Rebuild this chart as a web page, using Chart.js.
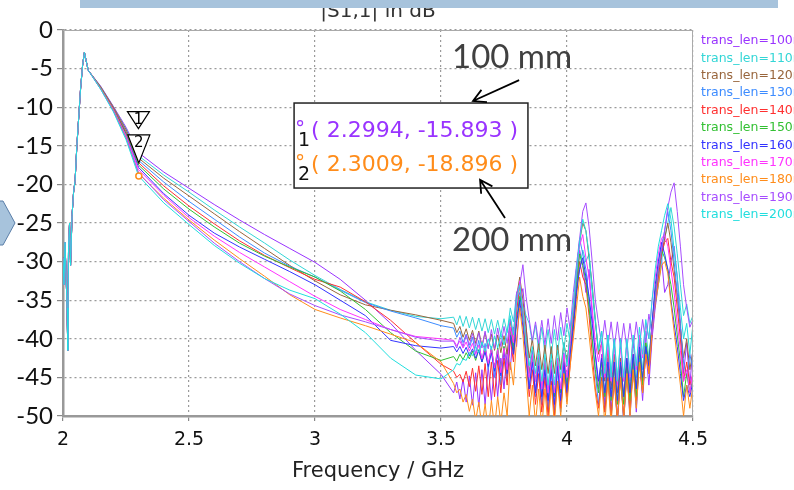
<!DOCTYPE html>
<html>
<head>
<meta charset="utf-8">
<script src="https://cdn.jsdelivr.net/npm/chart.js@4.4.1/dist/chart.umd.min.js"></script>
<style>
  html, body { margin: 0; padding: 0; background: #fff; }
</style>
</head>
<body>
<canvas id="s11-chart" width="794" height="490"></canvas>
<script>
// trace names and colours
const lengths = ['100', '110', '120', '130', '140', '150', '160', '170', '180', '190', '200'];
const colors = ['#9933ff', '#33d6d6', '#99663d', '#3d8cff', '#ff3030', '#33c033', '#3333ff', '#ff33ff', '#ff8c1a', '#a64dff', '#22dede'];

// frequency points (GHz)
const riseFreq = [2.000, 2.004, 2.008, 2.012, 2.016, 2.019, 2.022, 2.026, 2.030, 2.036, 2.042, 2.048, 2.055, 2.062, 2.070, 2.078, 2.085, 2.092, 2.100];
const midFreq = [2.15, 2.20, 2.25, 2.30, 2.40, 2.50, 2.60, 2.70, 2.80, 2.90, 3.00, 3.10, 3.20, 3.30, 3.40, 3.50];
const resFreq = [
  3.55, 3.5625, 3.575, 3.5875, 3.6, 3.6125, 3.625, 3.6375, 3.65, 3.6625,
  3.675, 3.6875, 3.7, 3.7125, 3.725, 3.7375, 3.75, 3.7625, 3.775, 3.7875,
  3.8, 3.8125, 3.825, 3.8375, 3.85, 3.8625, 3.875, 3.8875, 3.9, 3.9125,
  3.925, 3.9375, 3.95, 3.9625, 3.975, 3.9875, 4.0, 4.0125, 4.025, 4.0375,
  4.05, 4.0625, 4.075, 4.0875, 4.1, 4.1125, 4.125, 4.1375, 4.15, 4.1625,
  4.175, 4.1875, 4.2, 4.2125, 4.225, 4.2375, 4.25, 4.2625, 4.275, 4.2875,
  4.3, 4.3125, 4.325, 4.3375, 4.35, 4.3625, 4.375, 4.3875, 4.4, 4.4125,
  4.425, 4.4375, 4.45, 4.4625, 4.475, 4.4875, 4.5];

// the rising edge is the same for every length
const riseDb = [-29.5, -33.0, -27.5, -31.5, -36.0, -41.5, -28.0, -25.0, -30.5, -24.0, -21.0, -19.5, -15.0, -11.5, -7.5, -4.5, -2.9, -4.0, -5.2];

// 2.15 .. 3.5 GHz
const mid100 = [-7.3, -9.9, -12.6, -15.9, -18.4, -20.5, -22.6, -24.6, -26.5, -28.3, -30.1, -32.3, -35.0, -38.0, -41.5, -44.6];
const mid110 = [-7.4, -10.0, -12.8, -16.3, -18.8, -21.0, -23.3, -25.5, -27.6, -29.8, -31.8, -33.6, -35.2, -36.3, -37.1, -37.4];
const mid120 = [-7.4, -10.0, -12.9, -16.6, -19.2, -21.5, -23.8, -26.1, -28.3, -30.5, -32.5, -34.3, -35.6, -36.3, -36.9, -37.6];
const mid130 = [-7.5, -10.1, -13.1, -16.9, -19.7, -22.2, -24.5, -26.8, -28.9, -30.6, -32.0, -33.7, -35.3, -36.4, -37.3, -38.3];
const mid140 = [-7.5, -10.1, -13.2, -17.2, -20.2, -22.8, -25.1, -27.3, -29.2, -30.8, -32.3, -33.3, -35.2, -37.6, -40.5, -43.3];
const mid150 = [-7.5, -10.2, -13.4, -17.5, -20.6, -23.2, -25.5, -27.6, -29.3, -30.7, -32.0, -33.8, -36.2, -39.2, -41.6, -42.8];
const mid160 = [-7.6, -10.3, -13.6, -17.8, -21.2, -24.0, -26.3, -28.1, -29.7, -31.3, -33.0, -35.0, -37.0, -40.2, -40.9, -41.2];
const mid170 = [-7.6, -10.3, -13.7, -18.1, -21.4, -24.3, -26.7, -28.8, -30.7, -32.6, -34.5, -36.2, -37.5, -38.8, -39.7, -40.0];
const mid180 = [-7.6, -10.4, -13.9, -18.6, -21.8, -24.6, -27.2, -29.6, -31.9, -34.3, -36.2, -37.3, -38.3, -39.4, -40.5, -43.0];
const mid190 = [-7.7, -10.5, -14.0, -18.5, -22.0, -24.8, -27.6, -30.0, -32.2, -34.2, -35.7, -36.9, -37.8, -38.8, -39.8, -40.3];
const mid200 = [-7.7, -10.6, -14.2, -18.9, -22.4, -25.2, -27.9, -30.2, -32.2, -33.7, -34.8, -36.8, -39.2, -42.5, -44.7, -45.2];

// 3.55 .. 4.5 GHz, ripple and the three resonances
const res100 = [
  -47.0, -45.6, -47.8, -45.2, -48.2, -44.8, -48.6, -44.4, -48.8, -44.0, -48.5, -43.6, -48.0, -43.2, -47.5, -42.5, -46.5, -41.5,
  -44.0, -38.5, -41.0, -35.0, -33.5, -38.0, -44.5, -41.5,
  -47.0, -42.0, -48.5, -42.5, -49.0, -42.8, -49.2, -42.5, -48.5, -41.8, -47.0, -40.5,
  -38.0, -33.0, -28.5, -30.5, -34.0, -31.0, -37.0, -42.0, -46.5,
  -42.0, -48.5, -42.5, -49.5, -43.0, -50.5, -43.5, -51.0, -43.5, -50.5, -43.0, -49.5, -42.5, -48.0, -41.5, -46.0, -40.0,
  -36.0, -33.0, -29.5, -34.0, -33.0, -30.0, -28.0, -32.0, -38.0,
  -44.5, -40.5, -46.0, -41.0];
const res110 = [
  -37.2, -38.2, -37.0, -38.4, -37.1, -38.6, -37.2, -38.8, -37.3, -39.0, -37.4, -39.2, -37.5, -39.4, -37.6, -39.5, -37.4, -39.2,
  -36.0, -37.8, -34.0, -36.5, -35.5, -37.0, -38.0, -40.5,
  -38.2, -41.5, -38.5, -42.0, -38.8, -42.2, -38.8, -42.0, -38.5, -41.5, -38.0, -40.5,
  -36.0, -33.5, -31.0, -28.5, -30.0, -29.0, -34.0, -38.0, -41.5,
  -39.0, -43.5, -39.5, -44.5, -40.0, -45.0, -40.5, -45.5, -40.5, -45.5, -40.5, -45.0, -40.0, -44.0, -39.0, -42.5, -38.0,
  -35.5, -33.0, -30.0, -27.0, -25.0, -23.0, -25.5, -29.0, -33.0,
  -37.0, -35.5, -38.0, -37.0];
const res120 = [
  -38.0, -39.2, -38.4, -39.8, -38.7, -40.2, -38.9, -40.6, -39.0, -40.9, -39.2, -41.2, -39.4, -41.5, -39.5, -41.8, -39.6, -42.0,
  -37.5, -41.0, -34.5, -32.0, -35.0, -38.5, -42.5, -40.0,
  -43.5, -40.5, -44.0, -40.8, -44.5, -41.0, -44.5, -40.8, -44.0, -40.5, -43.0, -39.5,
  -36.0, -31.0, -27.5, -25.0, -26.0, -29.5, -33.0, -37.5, -42.0,
  -40.5, -45.5, -41.5, -46.5, -42.0, -47.0, -42.5, -47.5, -42.5, -47.0, -42.0, -46.5, -41.5, -45.5, -40.5, -44.0, -38.5,
  -35.5, -32.0, -29.0, -27.0, -25.0, -27.5, -31.0, -34.5, -38.5,
  -42.5, -40.0, -44.0, -41.5];
const res130 = [
  -38.6, -39.8, -39.0, -40.5, -39.4, -41.2, -39.8, -42.0, -40.2, -43.0, -40.6, -44.0, -41.0, -45.0, -41.2, -46.0, -41.0, -45.5,
  -38.5, -42.0, -36.0, -34.0, -37.5, -41.5, -46.0, -42.5,
  -47.5, -43.0, -48.5, -43.5, -49.5, -44.0, -50.0, -44.0, -49.5, -43.5, -48.0, -42.0,
  -37.0, -32.0, -27.0, -29.0, -31.0, -35.0, -40.0, -44.5, -48.5,
  -44.0, -49.5, -44.5, -50.5, -45.0, -51.0, -45.0, -50.5, -44.5, -49.5, -43.5, -48.5, -42.5, -47.0, -41.0, -44.5, -38.5,
  -34.0, -30.0, -28.0, -26.0, -23.5, -26.0, -30.0, -34.0, -38.5,
  -43.0, -45.0, -42.0, -44.0];
const res140 = [
  -44.2, -45.0, -44.6, -45.6, -44.2, -46.2, -43.8, -46.8, -43.5, -47.2, -43.2, -47.5, -43.0, -47.5, -42.8, -47.0, -42.5, -46.0,
  -40.0, -43.0, -36.5, -33.0, -37.0, -42.0, -47.5, -44.0,
  -48.5, -44.5, -49.5, -45.0, -50.0, -45.5, -50.0, -45.5, -49.0, -44.5, -47.5, -43.5,
  -39.0, -34.5, -30.0, -32.0, -33.0, -37.0, -42.0, -46.5, -49.0,
  -45.0, -49.5, -45.0, -50.0, -45.5, -50.5, -45.0, -50.0, -44.5, -49.0, -44.0, -48.0, -43.0, -47.0, -42.0, -44.5, -39.5,
  -35.0, -31.5, -29.0, -27.5, -27.0, -30.0, -32.0, -36.0, -40.0,
  -45.5, -43.0, -46.0, -44.5];
const res150 = [
  -42.3, -42.9, -42.0, -42.7, -41.8, -42.6, -41.6, -42.8, -41.4, -43.0, -41.3, -43.4, -41.2, -43.8, -41.2, -44.2, -41.0, -44.0,
  -39.0, -41.5, -37.5, -34.5, -36.0, -40.0, -44.5, -42.0,
  -45.5, -42.5, -46.5, -42.5, -47.0, -43.0, -47.5, -43.0, -47.0, -42.5, -46.0, -41.5,
  -37.5, -33.5, -29.0, -30.5, -32.5, -36.0, -40.0, -44.0, -47.0,
  -43.0, -47.5, -43.5, -48.0, -43.5, -48.5, -43.5, -48.5, -43.0, -48.0, -42.5, -47.5, -41.5, -46.0, -40.5, -43.0, -38.0,
  -34.0, -31.0, -28.5, -29.5, -31.0, -33.0, -36.0, -39.5, -43.0,
  -47.5, -44.5, -47.0, -45.0];
const res160 = [
  -41.0, -41.7, -41.0, -41.9, -41.1, -42.2, -41.3, -42.5, -41.5, -43.0, -41.7, -43.6, -41.8, -44.2, -42.0, -44.8, -41.5, -44.5,
  -39.5, -42.0, -38.0, -35.0, -38.5, -42.5, -46.5, -43.0,
  -47.0, -43.5, -47.5, -44.0, -48.0, -44.0, -48.5, -43.5, -48.0, -43.0, -47.0, -42.0,
  -38.5, -34.0, -31.0, -29.5, -32.0, -34.5, -38.0, -42.0, -45.5,
  -42.5, -47.0, -43.0, -47.5, -43.0, -48.0, -43.0, -47.5, -42.5, -47.0, -42.0, -46.5, -41.0, -45.0, -41.0, -43.5, -38.0,
  -33.0, -30.0, -27.5, -29.0, -31.0, -35.0, -38.0, -41.0, -44.5,
  -48.0, -46.0, -47.5, -45.5];
const res170 = [
  -40.2, -40.9, -40.3, -41.2, -40.4, -41.6, -40.6, -42.0, -40.8, -42.6, -41.0, -43.2, -41.2, -43.8, -41.4, -44.4, -41.2, -44.0,
  -38.5, -40.5, -35.5, -32.5, -36.0, -40.5, -45.0, -42.0,
  -45.5, -42.0, -46.5, -42.5, -47.0, -43.0, -47.0, -42.5, -46.5, -42.0, -45.0, -40.5,
  -36.0, -31.0, -28.0, -26.5, -29.5, -32.0, -36.0, -40.5, -43.0,
  -40.5, -45.0, -41.0, -45.5, -41.0, -46.0, -41.0, -45.5, -40.5, -45.0, -40.0, -44.0, -39.5, -42.5, -38.0, -40.0, -35.0,
  -32.0, -29.0, -27.0, -26.5, -28.0, -31.0, -34.0, -38.0, -41.5,
  -45.5, -44.0, -47.0, -44.0];
const res180 = [
  -45.8, -47.0, -46.5, -48.2, -47.2, -49.4, -47.8, -50.6, -48.2, -51.5, -48.4, -52.0, -48.0, -51.5, -47.5, -51.0, -47.0, -50.0,
  -43.0, -46.0, -40.0, -36.0, -39.5, -44.5, -50.0, -46.0,
  -51.0, -46.5, -51.5, -46.5, -51.5, -46.0, -51.0, -45.5, -50.0, -44.5, -48.5, -43.5,
  -40.0, -36.0, -32.0, -34.5, -36.0, -39.5, -43.5, -47.0, -50.0,
  -45.5, -51.0, -45.5, -51.0, -45.0, -50.5, -45.0, -50.5, -44.5, -50.0, -44.0, -49.0, -43.0, -47.0, -42.0, -44.5, -39.0,
  -35.5, -33.0, -30.5, -30.0, -31.5, -35.5, -39.0, -42.5, -46.0,
  -50.0, -46.0, -49.0, -46.0];
const res190 = [
  -40.3, -41.2, -39.8, -41.0, -39.5, -40.8, -39.3, -41.0, -39.2, -41.2, -39.0, -41.3, -38.8, -41.3, -38.6, -41.0, -38.4, -40.6,
  -37.5, -39.5, -34.0, -33.0, -30.4, -34.5, -37.5, -40.2,
  -37.8, -40.6, -37.6, -40.8, -37.4, -40.6, -37.0, -40.2, -36.6, -39.6, -36.0, -38.8,
  -34.0, -30.5, -27.0, -23.5, -22.4, -25.5, -30.0, -35.0, -38.0,
  -40.8, -37.6, -41.0, -37.8, -41.2, -37.8, -41.3, -38.0, -41.3, -38.0, -41.2, -37.8, -41.0, -37.5, -40.5, -36.8, -39.5,
  -35.0, -31.0, -28.5, -26.0, -23.0, -21.0, -19.8, -23.5, -28.0,
  -33.0, -36.0, -38.5, -37.5];
const res200 = [
  -44.0, -43.2, -43.4, -42.6, -42.8, -41.8, -42.2, -41.0, -41.8, -40.4, -41.6, -40.0, -41.4, -39.6, -41.2, -39.4, -40.8, -39.0,
  -37.0, -39.5, -35.0, -33.0, -36.5, -40.5, -43.5, -41.0,
  -44.5, -41.5, -45.5, -42.0, -46.0, -42.0, -46.0, -41.5, -45.0, -40.5, -43.5, -39.0,
  -35.5, -31.0, -27.5, -24.5, -26.0, -29.0, -33.5, -37.5, -41.5,
  -39.0, -44.5, -39.5, -45.0, -40.0, -45.5, -40.0, -45.0, -40.0, -44.5, -39.5, -43.5, -38.5, -42.0, -37.5, -40.0, -35.0,
  -31.0, -28.0, -26.0, -24.0, -22.5, -24.5, -28.5, -32.0, -36.0,
  -40.0, -38.0, -42.0, -38.0];

// the two markers
const markerFreq = [2.2994, 2.3009];
const markerDb = [-15.893, -18.896];
const markerColors = ['#9933ff', '#ff8c1a'];

const yTicks = [0, -5, -10, -15, -20, -25, -30, -35, -40, -45, -50];

const midRows = [mid100, mid110, mid120, mid130, mid140, mid150, mid160, mid170, mid180, mid190, mid200];
const resRows = [res100, res110, res120, res130, res140, res150, res160, res170, res180, res190, res200];
const allFreq = riseFreq.concat(midFreq, resFreq);

const datasets = lengths.map((len, i) => {
  const db = riseDb.concat(midRows[i], resRows[i]);
  return {
    label: 'trans_len=' + len,
    data: allFreq.map((f, k) => ({ x: f, y: db[k] })),
    borderColor: colors[i],
    borderWidth: 1,
    pointRadius: 0,
    tension: 0,
    order: lengths.length - i
  };
});

datasets.push({
  label: 'markers',
  data: markerFreq.map((f, k) => ({ x: f, y: markerDb[k] })),
  showLine: false,
  pointRadius: 3,
  pointBorderWidth: 1.5,
  pointBackgroundColor: '#fff',
  pointBorderColor: markerColors,
  order: -1
});

// frame, markers, annotations and the legend drawn on top
const decor = {
  id: 'decor',
  afterDraw(chart) {
    const { ctx, chartArea: a, scales: { x, y } } = chart;
    const px = v => x.getPixelForValue(v);
    const py = v => y.getPixelForValue(v);
    ctx.save();

    // top and right frame
    ctx.strokeStyle = '#aaa';
    ctx.lineWidth = 1;
    ctx.beginPath();
    ctx.moveTo(a.left, a.top + 0.5); ctx.lineTo(a.right, a.top + 0.5);
    ctx.moveTo(a.right - 0.5, a.top); ctx.lineTo(a.right - 0.5, a.bottom);
    ctx.stroke();

    // marker triangles
    const tri = (cx, top, tip, label) => {
      ctx.beginPath();
      ctx.moveTo(cx - 11, top); ctx.lineTo(cx + 11, top); ctx.lineTo(cx, tip); ctx.closePath();
      ctx.fillStyle = '#fff'; ctx.fill();
      ctx.strokeStyle = '#000'; ctx.lineWidth = 1.2; ctx.stroke();
      ctx.fillStyle = '#000';
      ctx.font = '15px "DejaVu Sans"';
      ctx.textAlign = 'center'; ctx.textBaseline = 'top';
      ctx.fillText(label, cx, top + 1);
    };
    const m1x = px(markerFreq[0]), m1y = py(markerDb[0]);
    const m2x = px(markerFreq[1]), m2y = py(markerDb[1]);
    tri(m1x, m1y - 41, m1y - 24, '1');
    tri(m2x, m2y - 41, m2y - 13, '2');

    // marker readout box
    const bx = px(2.917), by = py(-9.46), bw = px(3.845) - bx, bh = py(-20.47) - by;
    ctx.fillStyle = '#fff';
    ctx.fillRect(bx, by, bw, bh);
    ctx.strokeStyle = '#222'; ctx.lineWidth = 1.5;
    ctx.strokeRect(bx, by, bw, bh);
    ctx.textAlign = 'left'; ctx.textBaseline = 'alphabetic';
    for (let k = 0; k < 2; k++) {
      const ly = by + 34 + k * 34;
      ctx.strokeStyle = markerColors[k]; ctx.lineWidth = 1.2;
      ctx.beginPath(); ctx.arc(bx + 6, ly - 14, 2.5, 0, Math.PI * 2); ctx.stroke();
      ctx.fillStyle = markerColors[k];
      ctx.font = '22px "DejaVu Sans"';
      ctx.fillText('( ' + markerFreq[k] + ', ' + markerDb[k] + ' )', bx + 17, ly);
      ctx.fillStyle = '#111';
      ctx.font = '19px "DejaVu Sans"';
      ctx.fillText(String(k + 1), bx + 4, ly + 9);
    }

    // length callouts
    ctx.fillStyle = '#404040';
    ctx.font = '33px Lato';
    ctx.textAlign = 'center'; ctx.textBaseline = 'middle';
    ctx.fillText('100 mm', px(3.782), py(-3.5));
    ctx.fillText('200 mm', px(3.782), py(-27.2));
    const arrow = (x0, y0, x1, y1) => {
      const ang = Math.atan2(y1 - y0, x1 - x0);
      ctx.strokeStyle = '#000'; ctx.lineWidth = 1.8;
      ctx.beginPath(); ctx.moveTo(x0, y0); ctx.lineTo(x1, y1);
      ctx.moveTo(x1 + 14 * Math.cos(ang - 0.5 + Math.PI), y1 + 14 * Math.sin(ang - 0.5 + Math.PI));
      ctx.lineTo(x1, y1);
      ctx.lineTo(x1 + 14 * Math.cos(ang + 0.5 + Math.PI), y1 + 14 * Math.sin(ang + 0.5 + Math.PI));
      ctx.stroke();
    };
    arrow(px(3.81), py(-6.5), px(3.627), py(-9.2));
    arrow(px(3.754), py(-24.35), px(3.655), py(-19.4));

    // legend, text only, clipped at the page edge
    ctx.font = '12.5px "DejaVu Sans"';
    ctx.textAlign = 'left'; ctx.textBaseline = 'middle';
    lengths.forEach((len, i) => {
      ctx.fillStyle = colors[i];
      ctx.fillText('trans_len=' + len + 'mm', a.right + 8, a.top + 11 + i * 17.4);
    });

    // title, half hidden by the slide band
    ctx.fillStyle = '#333';
    ctx.font = '20px "DejaVu Sans"';
    ctx.textAlign = 'center'; ctx.textBaseline = 'alphabetic';
    ctx.fillText('|S1,1| in dB', 378, 17);
    ctx.fillStyle = '#a7c3dc';
    ctx.fillRect(80, 0, 698, 8);

    // slide arrow shape at the left
    const cy = py(-25);
    ctx.beginPath();
    ctx.moveTo(-2, cy - 22); ctx.lineTo(3, cy - 22); ctx.lineTo(15, cy); ctx.lineTo(3, cy + 22); ctx.lineTo(-2, cy + 22);
    ctx.closePath();
    ctx.fillStyle = '#a7c3dc'; ctx.fill();
    ctx.strokeStyle = '#5a7ea8'; ctx.lineWidth = 1; ctx.stroke();

    ctx.restore();
  }
};

const ctx = document.getElementById('s11-chart').getContext('2d');
new Chart(ctx, {
  type: 'line',
  data: { datasets: datasets },
  plugins: [decor],
  options: {
    responsive: false,
    animation: false,
    devicePixelRatio: 1,
    layout: { padding: { top: 30, right: 101, left: 0, bottom: 0 } },
    plugins: {
      legend: { display: false },
      tooltip: { enabled: false }
    },
    scales: {
      x: {
        type: 'linear',
        min: 2,
        max: 4.5,
        afterFit: s => { s.height = 74; },
        ticks: {
          stepSize: 0.5, maxRotation: 0, padding: 8, color: '#111',
          font: { family: 'DejaVu Sans', size: 19 },
          callback: v => String(v)
        },
        grid: { color: '#9a9a9a', lineWidth: 1.2, tickLength: 5, tickColor: '#888', tickBorderDash: [] },
        border: { display: true, color: '#999', width: 2.5, dash: [2, 3] },
        title: {
          display: true,
          text: 'Frequency / GHz',
          color: '#222',
          font: { family: 'DejaVu Sans', size: 21 },
          padding: { top: 2, bottom: 6 }
        }
      },
      y: {
        min: -50,
        max: 0,
        afterFit: s => { s.width = 63; },
        afterBuildTicks: s => { s.ticks = yTicks.map(v => ({ value: v })); },
        ticks: { padding: 4, color: '#111', font: { family: 'Lato', size: 24 } },
        grid: { color: '#9a9a9a', lineWidth: 1.2, tickLength: 6, tickColor: '#888', tickBorderDash: [] },
        border: { display: true, color: '#999', width: 2.5, dash: [2, 3] }
      }
    }
  }
});
</script>
</body>
</html>
